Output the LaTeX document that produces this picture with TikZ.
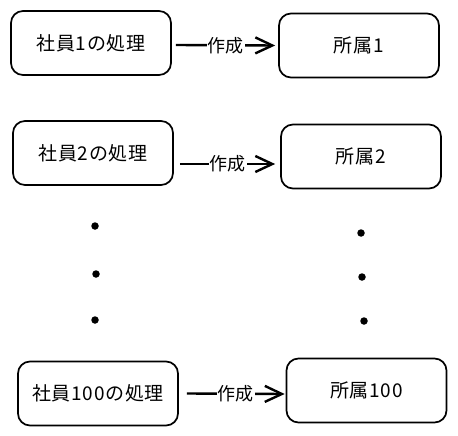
\documentclass[tikz,border=0pt]{standalone}
\usepackage{fontspec}
\setmainfont{Noto Sans CJK JP}
\newfontfamily\jpbox[LetterSpace=4]{Noto Sans CJK JP}
\usetikzlibrary{arrows.meta,calc}
\tikzset{
  boxnode/.style={draw, line width=1.7pt, rounded corners=12pt, minimum width=160pt, minimum height=64pt, inner sep=0pt, font=\jpbox\fontsize{19}{21}\selectfont},
  arr/.style={line width=2.4pt, -{Straight Barb[length=17pt,width=16pt]}},
  lbl/.style={fill=white, inner sep=1pt, font=\fontsize{18}{20}\selectfont},
  dotc/.style={circle, fill=black, inner sep=0pt, minimum size=7.5pt}
}
\begin{document}
\begin{tikzpicture}[x=1pt,y=-1pt]
\useasboundingbox (0,0) rectangle (458,436);
\node[boxnode] (a1) at (91,43) {社員1の処理};
\node[boxnode] (b1) at (359,45.5) {所属1};
\node[boxnode] (a2) at (93,153) {社員2の処理};
\node[boxnode] (b2) at (361,156.5) {所属2};
\node[boxnode] (a3) at (98,393.5) {社員100の処理};
\node[boxnode] (b3) at (366.5,390.5) {所属100};
\draw[arr] ([xshift=4pt,yshift=-2pt]a1.east) -- node[lbl]{作成} ([xshift=-3pt]b1.west);
\draw[arr] ([xshift=6pt,yshift=-11pt]a2.east) -- node[lbl]{作成} ([xshift=-5pt,yshift=-7.5pt]b2.west);
\draw[arr] ([xshift=8pt]a3.east) -- node[lbl]{作成} ([xshift=-1pt,yshift=-3.5pt]b3.west);
\node[dotc] (l1) at (95,226) {};
\node[dotc] (l2) at (96,274) {};
\node[dotc] (l3) at (95,320) {};
\node[dotc] (r1) at (361,233) {};
\node[dotc] (r2) at (362,277) {};
\node[dotc] (r3) at (364,321) {};
\end{tikzpicture}
\end{document}
